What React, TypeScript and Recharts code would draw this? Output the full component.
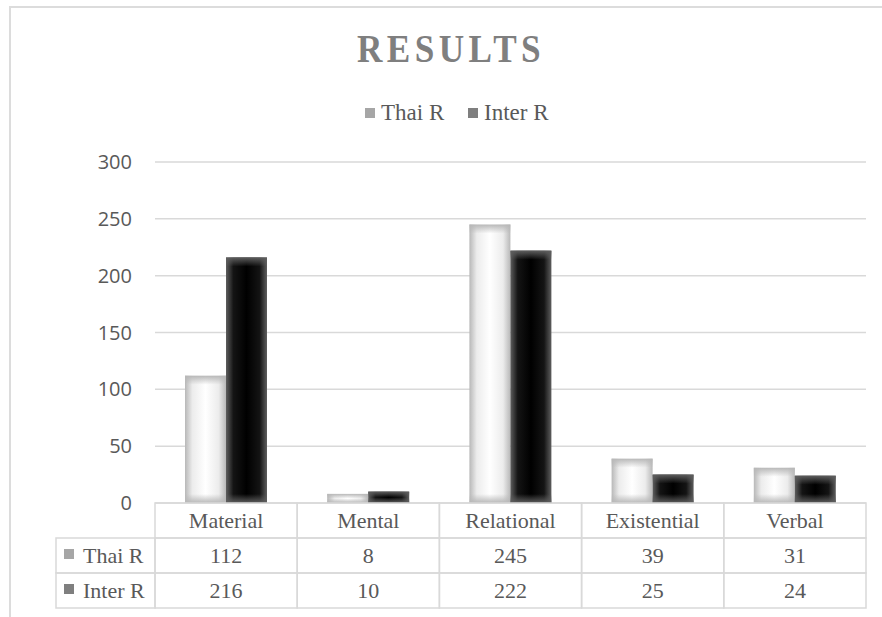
import React from 'react';
import { BarChart, Bar, XAxis, YAxis, CartesianGrid } from 'recharts';

const title = 'RESULTS';
const categories = ['Material', 'Mental', 'Relational', 'Existential', 'Verbal'];
const thaiR = [112, 8, 245, 39, 31];
const interR = [216, 10, 222, 25, 24];
const seriesNames = ['Thai R', 'Inter R'];
const seriesKeys = ['thai', 'inter'];
const legendColors = ['#a6a6a6', '#7f7f7f'];
const yTicks = [0, 50, 100, 150, 200, 250, 300];

const data = categories.map((c, i) => ({ category: c, thai: thaiR[i], inter: interR[i] }));
const seriesValues = [thaiR, interR];

const SERIF = '"Liberation Serif", "Times New Roman", serif';
const SANS = '"Open Sans", "Liberation Sans", sans-serif';
const GRID = '#d9d9d9';
const TEXT = '#595959';

const makeShape = (kind: string) => (props: any) => {
  const { x, y, width, height } = props;
  if (!height || height <= 0) return <g />;
  const e = Math.min(9, height / 2);
  return (
    <g>
      <rect x={x} y={y} width={width} height={height} fill={`url(#h-${kind})`} />
      <rect x={x} y={y} width={width} height={e} fill={`url(#vt-${kind})`} />
      <rect x={x} y={y + height - e} width={width} height={e} fill={`url(#vb-${kind})`} />
    </g>
  );
};

const TableTick = (props: any) => {
  const { x, y, payload } = props;
  const half = payload && payload.offset ? payload.offset : 71;
  const idx = categories.indexOf(payload.value);
  const rowH = 35;
  const left = x - half;
  const w = half * 2;
  const labelW = 99;
  return (
    <g>
      <rect x={left} y={y} width={w} height={rowH} fill="none" stroke={GRID} strokeWidth={1.5} />
      <rect x={left} y={y + rowH} width={w} height={rowH} fill="none" stroke={GRID} strokeWidth={1.5} />
      <rect x={left} y={y + rowH * 2} width={w} height={rowH} fill="none" stroke={GRID} strokeWidth={1.5} />
      <text x={x} y={y + 25} textAnchor="middle" fontFamily={SERIF} fontSize={22} fill={TEXT}>
        {payload.value}
      </text>
      {seriesValues.map((vals, r) => (
        <text key={r} x={x} y={y + rowH * (r + 1) + 25} textAnchor="middle" fontFamily={SERIF} fontSize={22} fill={TEXT}>
          {vals[idx]}
        </text>
      ))}
      {idx === 0 &&
        seriesNames.map((name, r) => (
          <g key={name}>
            <rect x={left - labelW} y={y + rowH * (r + 1)} width={labelW} height={rowH} fill="none" stroke={GRID} strokeWidth={1.5} />
            <rect x={left - labelW + 8} y={y + rowH * (r + 1) + 11} width={10} height={10} fill={legendColors[r]} />
            <text x={left - labelW + 27} y={y + rowH * (r + 1) + 25} fontFamily={SERIF} fontSize={22} fill={TEXT}>
              {name}
            </text>
          </g>
        ))}
    </g>
  );
};

export default function App() {
  const legendX = [365, 468];
  return (
    <div style={{ position: 'relative', width: 882, height: 617, overflow: 'hidden', background: '#fff' }}>
      <style>{`body{margin:0;}`}</style>
      <div
        style={{
          position: 'absolute',
          left: 9,
          top: 6,
          width: 900,
          height: 700,
          border: '2px solid #dcdcdc',
          boxSizing: 'border-box',
        }}
      />
      <div style={{ position: 'absolute', left: 0, top: 0 }}>
        <BarChart
          width={882}
          height={617}
          data={data}
          margin={{ top: 162, right: 16, bottom: 0, left: 0 }}
          barGap={0}
        >
          <defs>
            <linearGradient id="h-thai" x1="0" y1="0" x2="1" y2="0">
              <stop offset="0" stopColor="#b8b8b8" />
              <stop offset="0.18" stopColor="#ececec" />
              <stop offset="0.5" stopColor="#ffffff" />
              <stop offset="0.82" stopColor="#ececec" />
              <stop offset="1" stopColor="#b8b8b8" />
            </linearGradient>
            <linearGradient id="vt-thai" x1="0" y1="0" x2="0" y2="1">
              <stop offset="0" stopColor="#b8b8b8" stopOpacity={1} />
              <stop offset="1" stopColor="#b8b8b8" stopOpacity={0} />
            </linearGradient>
            <linearGradient id="vb-thai" x1="0" y1="0" x2="0" y2="1">
              <stop offset="0" stopColor="#b8b8b8" stopOpacity={0} />
              <stop offset="1" stopColor="#b8b8b8" stopOpacity={1} />
            </linearGradient>
            <linearGradient id="h-inter" x1="0" y1="0" x2="1" y2="0">
              <stop offset="0" stopColor="#5e5e5e" />
              <stop offset="0.18" stopColor="#141414" />
              <stop offset="0.5" stopColor="#000000" />
              <stop offset="0.82" stopColor="#141414" />
              <stop offset="1" stopColor="#5e5e5e" />
            </linearGradient>
            <linearGradient id="vt-inter" x1="0" y1="0" x2="0" y2="1">
              <stop offset="0" stopColor="#5e5e5e" stopOpacity={1} />
              <stop offset="1" stopColor="#5e5e5e" stopOpacity={0} />
            </linearGradient>
            <linearGradient id="vb-inter" x1="0" y1="0" x2="0" y2="1">
              <stop offset="0" stopColor="#5e5e5e" stopOpacity={0} />
              <stop offset="1" stopColor="#5e5e5e" stopOpacity={1} />
            </linearGradient>
          </defs>
          <CartesianGrid vertical={false} stroke={GRID} strokeWidth={1.5} />
          <XAxis
            dataKey="category"
            type="category"
            height={114}
            axisLine={false}
            tickLine={false}
            tickSize={0}
            tickMargin={0}
            interval={0}
            tick={<TableTick />}
          />
          <YAxis
            type="number"
            domain={[0, 300]}
            ticks={yTicks}
            width={155}
            axisLine={false}
            tickLine={false}
            tickSize={0}
            tickMargin={23}
            tick={{ fill: TEXT, fontSize: 20, fontFamily: SANS }}
          />
          {seriesKeys.map((k, i) => (
            <Bar
              key={k}
              dataKey={k}
              name={seriesNames[i]}
              barSize={41}
              shape={makeShape(k)}
              isAnimationActive={false}
            />
          ))}
        </BarChart>
      </div>
      <svg width={882} height={617} style={{ position: 'absolute', left: 0, top: 0, pointerEvents: 'none' }}>
        <text
          transform="translate(451,62) scale(0.88,1)"
          x={0}
          y={0}
          textAnchor="middle"
          fontFamily={SERIF}
          fontWeight="bold"
          fontSize={40}
          letterSpacing={5}
          fill="#7f7f7f"
        >
          {title}
        </text>
        {seriesNames.map((name, i) => (
          <g key={name}>
            <rect x={legendX[i]} y={108} width={10} height={10} fill={legendColors[i]} />
            <text x={legendX[i] + 16} y={120} fontFamily={SERIF} fontSize={23} fill={TEXT}>
              {name}
            </text>
          </g>
        ))}
      </svg>
    </div>
  );
}
